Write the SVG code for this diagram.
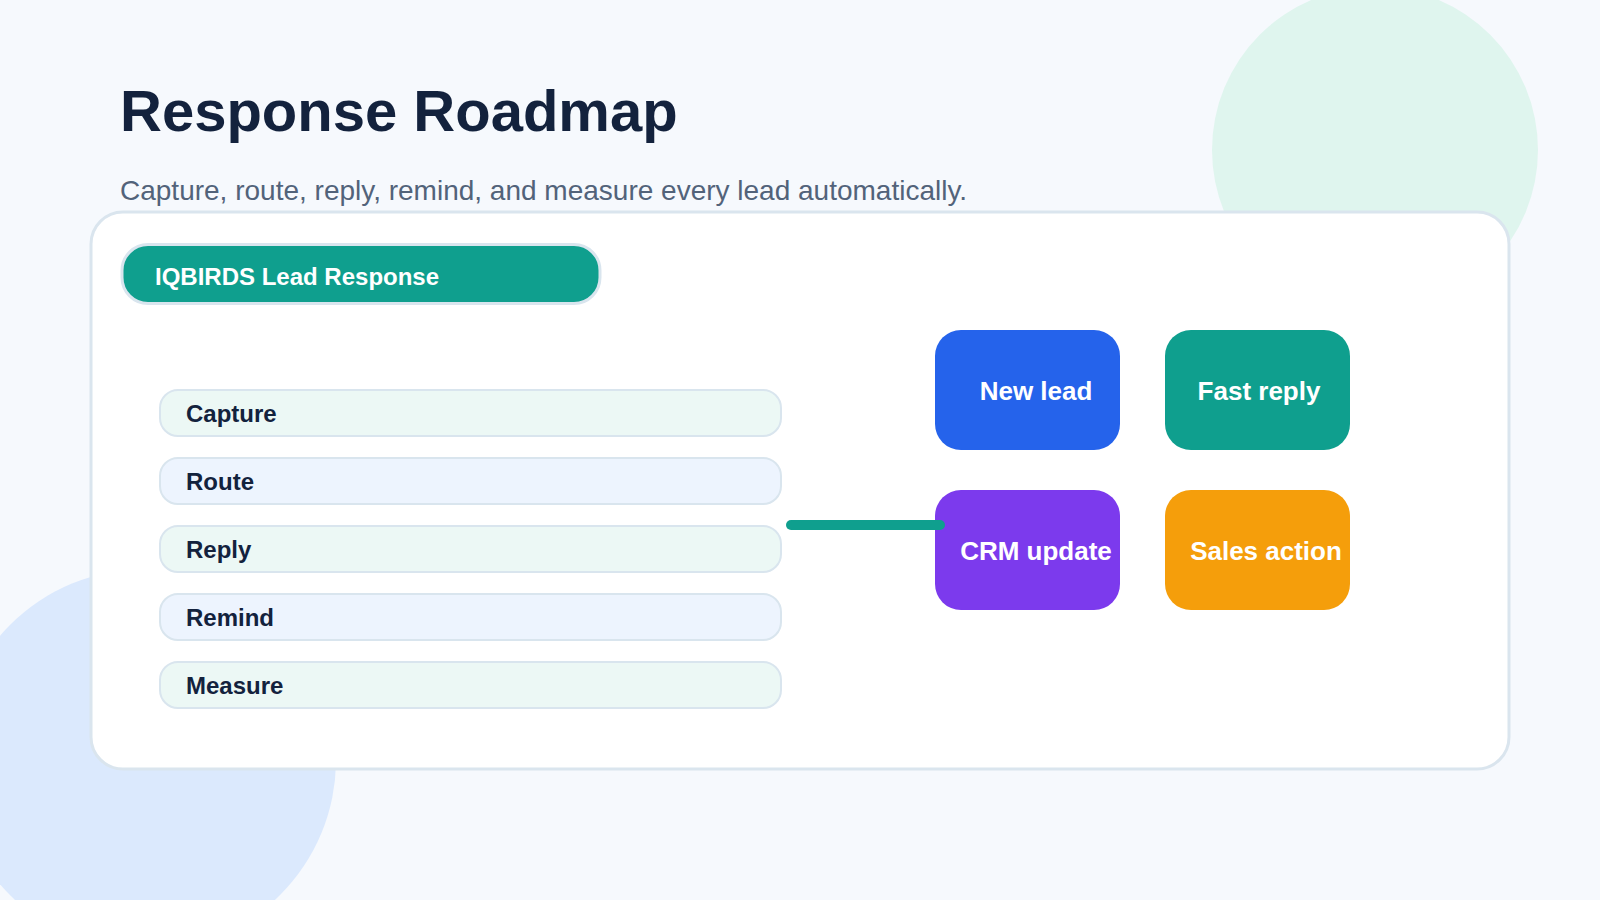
<svg xmlns="http://www.w3.org/2000/svg" width="1600" height="900" viewBox="0 0 1600 900">
  <defs>
    <style>
      .sans { font-family: "Liberation Sans", Arial, sans-serif; }
      .title { font-size: 58px; font-weight: 700; fill: #13223d; }
      .subtitle { font-size: 28px; font-weight: 400; fill: #52637a; }
      .row { stroke: #d9e5ee; stroke-width: 2; }
      .row-mint { fill: #ecf8f5; }
      .row-blue { fill: #edf4fe; }
      .row-label { font-size: 24px; font-weight: 700; fill: #13223d; }
      .tile-label { font-size: 26px; font-weight: 700; fill: #ffffff; text-anchor: middle; }
      .connector { stroke: #0f9f8e; stroke-width: 10; stroke-linecap: round; fill: none; }
    </style>
  </defs>

  <rect x="0" y="0" width="1600" height="900" fill="#f6f9fd"/>
  <circle cx="1375" cy="150" r="163" fill="#dff5ee"/>
  <circle cx="145" cy="760" r="191" fill="#dbe9fd"/>

  <g id="title" class="sans">
    <text class="title" x="120" y="131">Response Roadmap</text>
    <text class="subtitle" x="120" y="200">Capture, route, reply, remind, and measure every lead automatically.</text>
  </g>

  <g id="card">
    <rect x="91" y="212" width="1418" height="557" rx="32" fill="#ffffff" stroke="#dae5ee" stroke-width="3"/>
  </g>

  <g id="header" class="sans">
    <rect x="122" y="244.5" width="478" height="59" rx="26" fill="#0f9f8e" stroke="#d9e5ee" stroke-width="3"/>
    <text x="155" y="285" font-size="24" font-weight="700" fill="#ffffff">IQBIRDS Lead Response</text>
  </g>

  <g id="step-capture" class="sans">
    <rect class="row row-mint" x="160" y="390" width="621" height="46" rx="18"/>
    <text class="row-label" x="186" y="422">Capture</text>
  </g>
  <g id="step-route" class="sans">
    <rect class="row row-blue" x="160" y="458" width="621" height="46" rx="18"/>
    <text class="row-label" x="186" y="490">Route</text>
  </g>
  <g id="step-reply" class="sans">
    <rect class="row row-mint" x="160" y="526" width="621" height="46" rx="18"/>
    <text class="row-label" x="186" y="558">Reply</text>
  </g>
  <g id="step-remind" class="sans">
    <rect class="row row-blue" x="160" y="594" width="621" height="46" rx="18"/>
    <text class="row-label" x="186" y="626">Remind</text>
  </g>
  <g id="step-measure" class="sans">
    <rect class="row row-mint" x="160" y="662" width="621" height="46" rx="18"/>
    <text class="row-label" x="186" y="694">Measure</text>
  </g>

  <g id="tile-new-lead" class="sans">
    <rect x="935" y="330" width="185" height="120" rx="26" fill="#2563eb"/>
    <text class="tile-label" x="1036" y="400">New lead</text>
  </g>
  <g id="tile-fast-reply" class="sans">
    <rect x="1165" y="330" width="185" height="120" rx="26" fill="#0f9f8e"/>
    <text class="tile-label" x="1259" y="400">Fast reply</text>
  </g>
  <g id="tile-crm-update" class="sans">
    <rect x="935" y="490" width="185" height="120" rx="26" fill="#7c3aed"/>
    <text class="tile-label" x="1036" y="560">CRM update</text>
  </g>
  <g id="tile-sales-action" class="sans">
    <rect x="1165" y="490" width="185" height="120" rx="26" fill="#f59e0b"/>
    <text class="tile-label" x="1266" y="560">Sales action</text>
  </g>

  <g id="connectors">
    <line class="connector" x1="791" y1="525" x2="940" y2="525"/>
  </g>
</svg>
